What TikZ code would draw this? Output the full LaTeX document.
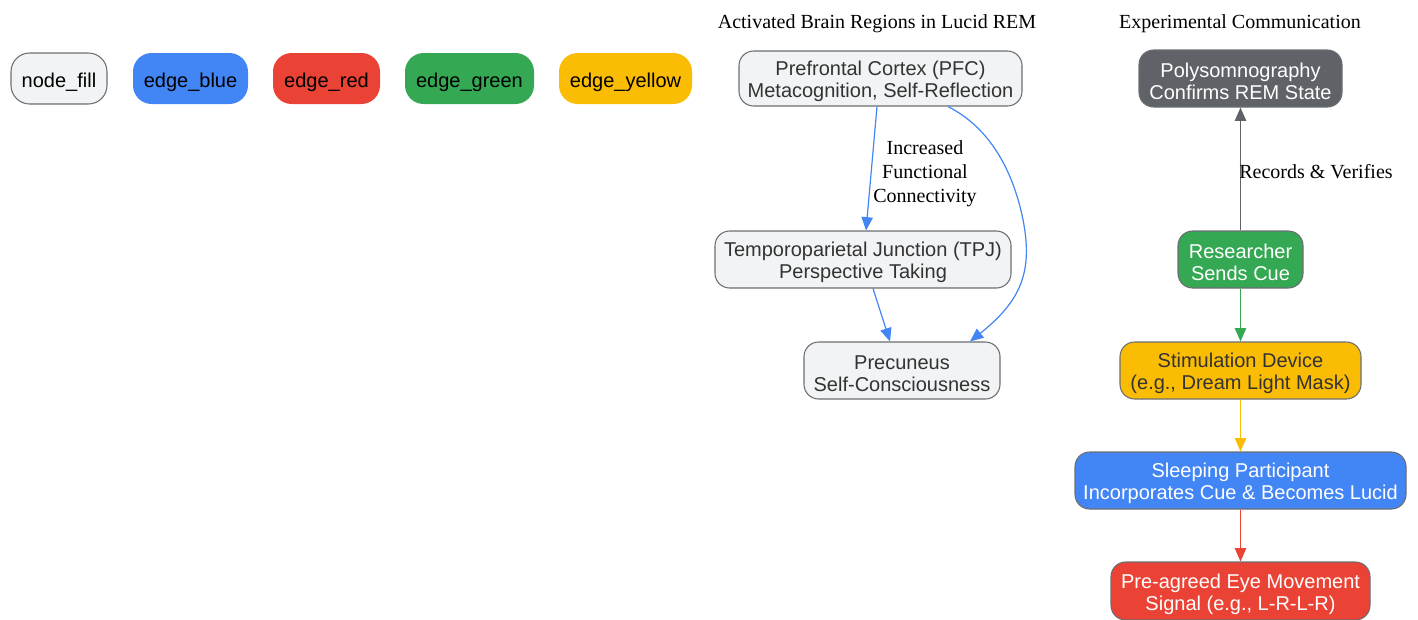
\documentclass[tikz,border=0pt]{standalone}
\usepackage{fontspec}
\setmainfont{Liberation Serif}
\setsansfont{Liberation Sans}
\usetikzlibrary{arrows.meta,calc}
\definecolor{gblue}{HTML}{4285F4}
\definecolor{gred}{HTML}{EA4335}
\definecolor{ggreen}{HTML}{34A853}
\definecolor{gyellow}{HTML}{FBBC04}
\definecolor{ggray}{HTML}{5F6368}
\definecolor{nfill}{HTML}{F1F3F4}
\definecolor{bord}{HTML}{6B6E72}
\definecolor{txt}{HTML}{333333}
\newcommand{\tstrut}{\rule{0pt}{15.5pt}}
\tikzset{
  sz/.style 2 args={minimum width=#1*0.75pt, minimum height=#2*0.75pt},
  box/.style={draw=bord, line width=0.8pt, rounded corners=11pt, inner sep=0pt, align=center,
    font=\sffamily\fontsize{15}{16.5}\selectfont, text=txt},
  leg/.style={rounded corners=14pt, inner sep=0pt, align=center,
    font=\sffamily\fontsize{15}{16.5}\selectfont, text=black,
    execute at begin node={\rule{0pt}{17pt}}},
  lab/.style={font=\rmfamily\fontsize{15}{18}\selectfont, align=center, text=black, inner sep=0pt},
  arr/.style={-{Triangle[length=10pt,width=8.5pt]}, line width=0.9pt},
}
\begin{document}
\begin{tikzpicture}[x=0.75pt,y=-0.75pt]
\useasboundingbox (0,0) rectangle (1418,619);
% legend
\node[leg, sz={96}{51}, fill=nfill, draw=bord, line width=0.8pt] (lfill) at (59,78.5) {node\_fill};
\node[leg, sz={115}{51}, fill=gblue] (lblue) at (190.5,78.5) {edge\_blue};
\node[leg, sz={107}{51}, fill=gred] (lred) at (326.5,78.5) {edge\_red};
\node[leg, sz={129}{51}, fill=ggreen] (lgreen) at (469.5,78.5) {edge\_green};
\node[leg, sz={133}{51}, fill=gyellow] (lyellow) at (625.5,78.5) {edge\_yellow};
% titles
\node[lab] (t1) at (877,24) {Activated Brain Regions in Lucid REM};
\node[lab] (t2) at (1240,24) {Experimental Communication};
% brain regions
\node[box, sz={283}{55}, fill=nfill] (pfc) at (880.5,78.5) {\tstrut Prefrontal Cortex (PFC)\\Metacognition, Self-Reflection};
\node[box, sz={296}{57}, fill=nfill] (tpj) at (863,259.5) {\tstrut Temporoparietal Junction (TPJ)\\Perspective Taking};
\node[box, sz={196}{57}, fill=nfill] (prec) at (902,370.5) {\tstrut Precuneus\\Self-Consciousness};
\draw[arr, gblue] ($(pfc.south)+(-3.5,0)$) -- ($(tpj.north)+(3,0)$);
\node[lab] (l1) at (925,174) {Increased\\Functional\\Connectivity};
\draw[arr, gblue] ($(tpj.south)+(10,0)$) -- ($(prec.north)+(-12,0)$);
\coordinate (bend) at (1022,215);
\draw[arr, gblue] ($(pfc.south)+(67.5,0)$) .. controls (990,128) and (1012,170) .. (bend)
   .. controls (1034,270) and (1022,300) .. ($(prec.north)+(68,0)$);
% communication
\node[box, sz={203}{57}, fill=ggray, text=white] (psg) at (1240.5,78.5) {\tstrut Polysomnography\\Confirms REM State};
\node[box, sz={125}{57}, fill=ggreen, text=white] (res) at (1240.5,259.5) {\tstrut Researcher\\Sends Cue};
\node[box, sz={241}{57}, fill=gyellow] (stim) at (1240.5,370.5) {\tstrut Stimulation Device\\(e.g., Dream Light Mask)};
\node[box, sz={331}{57}, fill=gblue, text=white] (sleep) at (1240.5,480.5) {\tstrut Sleeping Participant\\Incorporates Cue \& Becomes Lucid};
\node[box, sz={259}{58}, fill=gred, text=white] (sig) at (1240.5,591) {\tstrut Pre-agreed Eye Movement\\Signal (e.g., L-R-L-R)};
\draw[arr, ggray] (res) -- (psg);
\node[lab] (l2) at (1316,172) {Records \& Verifies};
\draw[arr, ggreen] (res) -- (stim);
\draw[arr, gyellow] (stim) -- (sleep);
\draw[arr, gred] (sleep) -- (sig);
\end{tikzpicture}
\end{document}
